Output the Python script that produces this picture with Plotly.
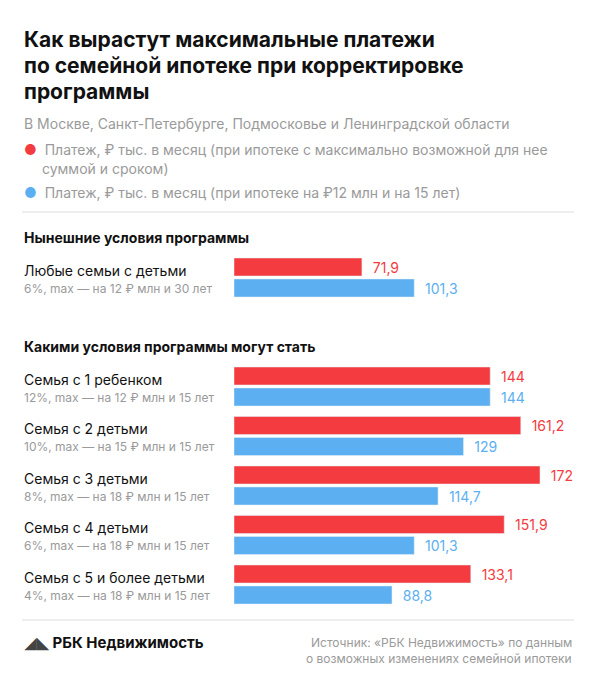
import plotly.graph_objects as go

W, H = 590, 679
FONT = "Inter"
RED = "#f43b3f"
BLUE = "#5cb0f2"
GRAY = "#9a9a9a"

names = ["Любые семьи с детьми", "Семья с 1 ребенком", "Семья с 2 детьми",
         "Семья с 3 детьми", "Семья с 4 детьми", "Семья с 5 и более детьми"]
terms = ["6%, max — на 12 ₽ млн и 30 лет", "12%, max — на 12 ₽ млн и 15 лет",
         "10%, max — на 15 ₽ млн и 15 лет", "8%, max — на 18 ₽ млн и 15 лет",
         "6%, max — на 18 ₽ млн и 15 лет", "4%, max — на 18 ₽ млн и 15 лет"]
max_pay = [71.9, 144, 161.2, 172, 151.9, 133.1]
pay_12m = [101.3, 144, 129, 114.7, 101.3, 88.8]

# vertical layout (pixel coordinates on a reversed y axis)
row_y = [259] + [368 + 49.5 * i for i in range(5)]
red_y = row_y
blue_y = [y + 21 for y in row_y]

def fmt(v):
    return "  " + f"{v:g}".replace(".", ",")

fig = go.Figure()
fig.add_bar(x=max_pay, y=red_y, orientation="h", width=18, marker_color=RED,
            text=[fmt(v) for v in max_pay], textposition="outside", cliponaxis=False,
            textfont=dict(color=RED, size=14, family=FONT))
fig.add_bar(x=pay_12m, y=blue_y, orientation="h", width=18, marker_color=BLUE,
            text=[fmt(v) for v in pay_12m], textposition="outside", cliponaxis=False,
            textfont=dict(color=BLUE, size=14, family=FONT))

ann = []
def txt(x, y, s, size=14, color="#111", bold=False, anchor="left"):
    if bold:
        s = f"<b>{s}</b>"
    ann.append(dict(x=x / W, y=y, xref="paper", yref="y", text=s, showarrow=False,
                    xanchor=anchor, yanchor="middle",
                    font=dict(size=size, color=color, family=FONT)))

for i, line in enumerate(["Как вырастут максимальные платежи",
                          "по семейной ипотеке при корректировке",
                          "программы"]):
    txt(14, 31 + 26 * i, line, size=21, bold=True)
txt(14, 115, "В Москве, Санкт-Петербурге, Подмосковье и Ленинградской области", size=14, color=GRAY)
txt(14, 141, "<span style='color:%s'>●</span>  Платеж, ₽ тыс. в месяц (при ипотеке с максимально возможной для нее" % RED, size=14, color=GRAY)
txt(32, 160, "суммой и сроком)", size=14, color=GRAY)
txt(14, 184, "<span style='color:%s'>●</span>  Платеж, ₽ тыс. в месяц (при ипотеке на ₽12 млн и на 15 лет)" % BLUE, size=14, color=GRAY)
txt(14, 229, "Нынешние условия программы", size=14, bold=True)
txt(14, 338, "Какими условия программы могут стать", size=14, bold=True)
for n, t, y in zip(names, terms, row_y):
    txt(14, y + 3, n, size=14)
    txt(14, y + 21, t, size=12, color=GRAY)
txt(14, 634, "<span style='color:#444'>◢◣</span> РБК Недвижимость", size=15, bold=True)
txt(566, 634, "Источник: «РБК Недвижимость» по данным", size=12, color=GRAY, anchor="right")
txt(566, 650, "о возможных изменениях семейной ипотеки", size=12, color=GRAY, anchor="right")

shapes = [dict(type="line", xref="paper", yref="y", x0=14 / W, x1=566 / W, y0=y, y1=y,
               line=dict(color="#dddddd", width=1)) for y in (204, 612)]

fig.update_layout(
    width=W, height=H, margin=dict(l=0, r=0, t=0, b=0),
    paper_bgcolor="white", plot_bgcolor="white", showlegend=False,
    barmode="overlay", annotations=ann, shapes=shapes,
    xaxis=dict(domain=[226 / W, 1], range=[0, (W - 226) / 1.779], visible=False, fixedrange=True),
    yaxis=dict(domain=[0, 1], range=[H, 0], visible=False, fixedrange=True),
)
fig.write_html("out.html")
